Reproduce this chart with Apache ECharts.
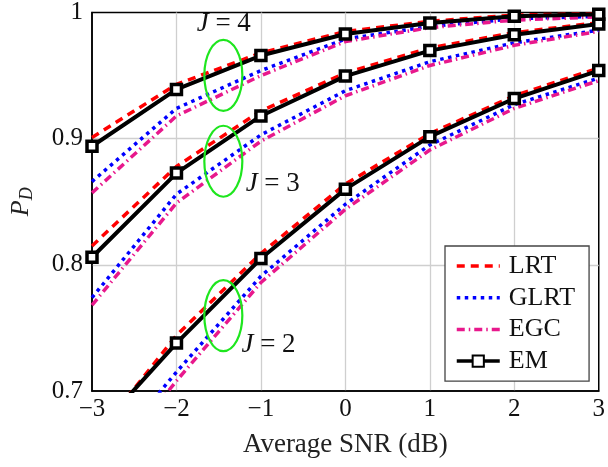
<!DOCTYPE html>
<html>
<head>
<meta charset="utf-8">
<script src="https://cdn.jsdelivr.net/npm/echarts@6/dist/echarts.min.js"></script>
<style>
html,body{margin:0;padding:0;background:#fff;}
#c{width:608px;height:467px;}
</style>
</head>
<body>
<div id="c"></div>
<script>
// ---- data ----
var snr = [-3, -2, -1, 0, 1, 2, 3];

var lrtJ2 = [0.660, 0.744, 0.809, 0.864, 0.904, 0.934, 0.956];
var lrtJ3 = [0.815, 0.878, 0.922, 0.952, 0.972, 0.984, 0.992];
var lrtJ4 = [0.901, 0.943, 0.968, 0.985, 0.993, 0.998, 0.999];

var glrtJ2 = [0.635, 0.715, 0.791, 0.848, 0.895, 0.927, 0.948];
var glrtJ3 = [0.774, 0.856, 0.903, 0.938, 0.961, 0.976, 0.986];
var glrtJ4 = [0.866, 0.924, 0.954, 0.979, 0.989, 0.995, 0.997];

var egcJ2 = [0.625, 0.708, 0.786, 0.844, 0.891, 0.924, 0.946];
var egcJ3 = [0.768, 0.849, 0.898, 0.934, 0.958, 0.974, 0.985];
var egcJ4 = [0.857, 0.918, 0.950, 0.977, 0.988, 0.994, 0.9965];

var emJ2 = [0.664, 0.738, 0.805, 0.860, 0.9016, 0.9318, 0.954];
var emJ3 = [0.806, 0.8727, 0.918, 0.9496, 0.9698, 0.9824, 0.9908];
var emJ4 = [0.894, 0.939, 0.9659, 0.983, 0.9916, 0.997, 0.9987];

var legendNames = ['LRT', 'GLRT', 'EGC', 'EM'];

// annotation ellipses (data coords of centres) and J labels
var ellipseCenters = [[-1.445, 0.9502], [-1.445, 0.8821], [-1.445, 0.7598]];
var jLabels = [[-1.44, 0.9906, '4'], [-0.86, 0.8638, '3'], [-0.91, 0.7362, '2']];

var xTicks = { min: -3, max: 3, step: 1 };
var yTicks = { min: 0.7, max: 1, step: 0.1 };

// ---- build ----
function pairs(ys) { return snr.map(function (x, i) { return [x, ys[i]]; }); }

var FONT = 'Liberation Serif';
var styles = {
  LRT:  { color: '#ff0000', width: 3.5, type: [8, 6] },
  GLRT: { color: '#0000ff', width: 3.5, type: [3.5, 4.5] },
  EGC:  { color: '#e8188c', width: 3.5, type: [8, 4, 1.5, 4] },
  EM:   { color: '#000000', width: 4, type: 'solid' }
};

function mk(name, ys) {
  var s = styles[name];
  var o = {
    name: name, type: 'line', data: pairs(ys),
    lineStyle: { color: s.color, width: s.width, type: s.type, cap: 'butt' },
    itemStyle: { color: s.color },
    symbol: 'none', silent: true, clip: true, z: 2
  };
  if (name === 'EM') {
    o.symbol = 'rect';
    o.symbolSize = 10;
    o.showSymbol = true;
    o.itemStyle = { color: '#ffffff', borderColor: '#000000', borderWidth: 3.5 };
    o.z = 3;
  }
  return o;
}

var series = [
  mk('LRT', lrtJ2), mk('LRT', lrtJ3), mk('LRT', lrtJ4),
  mk('GLRT', glrtJ2), mk('GLRT', glrtJ3), mk('GLRT', glrtJ4),
  mk('EGC', egcJ2), mk('EGC', egcJ3), mk('EGC', egcJ4),
  mk('EM', emJ2), mk('EM', emJ3), mk('EM', emJ4),
  {
    type: 'custom', name: 'ellipses', silent: true, z: 4,
    data: ellipseCenters,
    renderItem: function (params, api) {
      var p = api.coord([api.value(0), api.value(1)]);
      return {
        type: 'ellipse',
        shape: { cx: p[0], cy: p[1], rx: 19, ry: 35.5 },
        style: { fill: 'none', stroke: '#1ee61e', lineWidth: 2.2 }
      };
    }
  },
  {
    type: 'scatter', name: 'jlabels', silent: true, z: 5,
    symbolSize: 0, data: jLabels,
    itemStyle: { color: '#000', opacity: 1 },
    label: {
      show: true, position: 'inside',
      formatter: function (p) { return '{i|J} = ' + p.value[2]; },
      fontFamily: FONT, fontSize: 27, color: '#111',
      textBorderWidth: 0, textBorderColor: 'transparent',
      rich: { i: { fontFamily: FONT, fontStyle: 'italic', fontSize: 27, color: '#111', textBorderWidth: 0 } }
    }
  }
];

var legendData = legendNames.map(function (n) {
  var item = { name: n };
  if (n !== 'EM') item.itemStyle = { opacity: 0 };
  return item;
});

var chart = echarts.init(document.getElementById('c'), null, { renderer: 'canvas' });
chart.setOption({
  animation: false,
  backgroundColor: '#ffffff',
  grid: { left: 89, right: 6, top: 10, bottom: 76, show: true, borderColor: '#000', borderWidth: 1.5, backgroundColor: 'transparent' },
  legend: {
    data: legendData,
    orient: 'vertical', left: 445, top: 246,
    backgroundColor: '#fff', borderColor: '#444', borderWidth: 1.3,
    padding: [7, 14, 7, 10],
    itemWidth: 43, itemHeight: 14, itemGap: 5.7,
    lineStyle: { width: 3.5 },
    textStyle: { fontFamily: FONT, fontSize: 26, color: '#111', padding: [0, 0, 0, 4] },
    selectedMode: false
  },
  xAxis: {
    type: 'value', min: xTicks.min, max: xTicks.max, interval: xTicks.step,
    name: 'Average SNR (dB)', nameLocation: 'middle', nameGap: 40,
    nameTextStyle: { fontFamily: FONT, fontSize: 27, color: '#222' },
    axisLine: { show: true, onZero: false, lineStyle: { color: '#000', width: 1.5 } },
    axisTick: { show: false },
    axisLabel: {
      fontFamily: FONT, fontSize: 25, color: '#111', margin: 6,
      formatter: function (v) { return v < 0 ? '\u2212' + (-v) : String(v); }
    },
    splitLine: { show: true, showMinLine: false, showMaxLine: false, lineStyle: { color: '#cfcfcf', width: 1.3 } }
  },
  yAxis: {
    type: 'value', min: yTicks.min, max: yTicks.max, interval: yTicks.step,
    name: '{p|P}{d|D}', nameLocation: 'middle', nameGap: 56, nameRotate: 90,
    nameTextStyle: {
      rich: {
        p: { fontFamily: FONT, fontStyle: 'italic', fontSize: 26, color: '#222' },
        d: { fontFamily: FONT, fontStyle: 'italic', fontSize: 18, color: '#222', padding: [12, 0, 0, 0] }
      }
    },
    axisLine: { show: true, onZero: false, lineStyle: { color: '#000', width: 1.5 } },
    axisTick: { show: false },
    axisLabel: {
      fontFamily: FONT, fontSize: 25, color: '#111', margin: 9,
      formatter: function (v) { return Math.abs(v - 1) < 1e-9 ? '1' : v.toFixed(1); }
    },
    splitLine: { show: true, showMinLine: false, showMaxLine: false, lineStyle: { color: '#cfcfcf', width: 1.3 } }
  },
  series: series
});
</script>
</body>
</html>
